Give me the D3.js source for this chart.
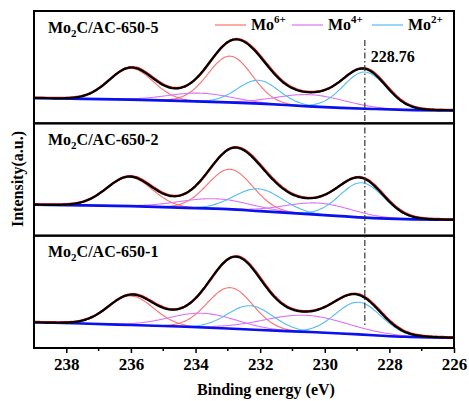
<!DOCTYPE html>
<html>
<head>
<meta charset="utf-8">
<script src="https://cdn.jsdelivr.net/npm/d3@7"></script>
<style>
body { margin: 0; background: #fff; }
text { font-family: "Liberation Serif", "Times New Roman", serif; font-weight: bold; fill: #000; }
</style>
</head>
<body>
<svg id="chart" width="469" height="401"></svg>
<script>
// x axis (binding energy, reversed)
var xTicks = [238, 236, 234, 232, 230, 228, 226]
var xMinor = [237, 235, 233, 231, 229, 227]

// panels, top to bottom
var sampleSuffix = ["650-5", "650-2", "650-1"]

// Shirley-like background read at a few energies
var bgEnergy = [239, 237.5, 236, 234.5, 233, 232, 230.5, 229.5, 228.5, 227.5, 226]
var bg650_5 = [25.3, 24.5, 23.7, 22.5, 21, 19.7, 17, 15.5, 14.4, 13.5, 13]
var bg650_2 = [31, 30.3, 29.5, 28, 26.5, 24.5, 21.5, 19.5, 17.5, 16.5, 16]
var bg650_1 = [25.7, 24.5, 23, 21.5, 19.5, 18, 16, 14.5, 12.8, 11.2, 10.3]

// fitted peaks per panel: [3d3/2, 3d5/2]
var mo6Center = [[236.0, 232.93], [236.05, 232.93], [236.0, 232.93]]
var mo6Height = [[31.3, 46.3], [29, 40], [29, 41]]
var mo6Fwhm = [[1.6, 1.6], [1.65, 1.65], [1.65, 1.65]]

var mo4Center = [[233.86, 230.45], [233.4, 230.2], [233.77, 230.6]]
var mo4Height = [[8.3, 11.7], [10, 11.7], [14.2, 16.6]]
var mo4Fwhm = [[2.35, 2.5], [2.6, 2.4], [2.45, 3.05]]

var mo2Center = [[232.06, 228.76], [232.06, 228.85], [232.31, 228.96]]
var mo2Height = [[23.3, 36.6], [22.2, 34.7], [23.8, 32.2]]
var mo2Fwhm = [[1.5, 1.55], [1.75, 1.6], [1.65, 1.65]]

var refLine = 228.76

var backgrounds = [bg650_5, bg650_2, bg650_1]
var species = [
  {name: "6+", color: "#ff6e6e", c: mo6Center, h: mo6Height, w: mo6Fwhm},
  {name: "4+", color: "#dd74f7", c: mo4Center, h: mo4Height, w: mo4Fwhm},
  {name: "2+", color: "#55bbf5", c: mo2Center, h: mo2Height, w: mo2Fwhm}
]

var svg = d3.select("#chart")

var left = 34, right = 454, top0 = 11, bottom0 = 348
var panelH = (bottom0 - top0) / 3

var x = d3.scaleLinear()
    .domain([239, 226])
    .range([left, right])

var grid = d3.range(226, 239.0001, 0.05)

function gauss(e, c, h, w) {
  return h * Math.exp(-4 * Math.LN2 * (e - c) * (e - c) / (w * w))
}

var clip = svg.append("clipPath").attr("id", "plotclip")
  .append("rect")
  .attr("x", left).attr("y", top0)
  .attr("width", right - left).attr("height", bottom0 - top0)

var plots = svg.append("g").attr("clip-path", "url(#plotclip)")

backgrounds.forEach(function(bg, i) {
  var pTop = top0 + i * panelH
  var y = d3.scaleLinear()
      .domain([0, panelH])
      .range([pTop + panelH, pTop])
  var bgAt = d3.scaleLinear().domain(bgEnergy).range(bg)

  var line = d3.line()
      .x(d => x(d[0]))
      .y(d => y(d[1]))
      .curve(d3.curveMonotoneX)

  var g = plots.append("g")

  // component peaks
  var envelope = grid.map(e => [e, bgAt(e)])
  species.forEach(function(s) {
    s.c[i].forEach(function(c, k) {
      var h = s.h[i][k], w = s.w[i][k]
      var pts = grid.map(e => [e, bgAt(e) + gauss(e, c, h, w)])
      grid.forEach(function(e, j) { envelope[j][1] += gauss(e, c, h, w) })
      g.append("path")
        .attr("d", line(pts))
        .attr("fill", "none")
        .attr("stroke", s.color)
        .attr("stroke-width", 1.1)
    })
  })

  // background
  g.append("path")
    .attr("d", line(bgEnergy.map((e, j) => [e, bg[j]])))
    .attr("fill", "none")
    .attr("stroke", "#0a10f0")
    .attr("stroke-width", 2.6)

  // raw data under the fitted envelope
  g.append("path")
    .attr("d", line(envelope))
    .attr("fill", "none")
    .attr("stroke", "#e82020")
    .attr("stroke-width", 2.3)
    .attr("transform", "translate(0.6,-0.4)")

  g.append("path")
    .attr("d", line(envelope))
    .attr("fill", "none")
    .attr("stroke", "#000")
    .attr("stroke-width", 2.2)

  // sample label
  var lab = svg.append("text")
    .attr("x", 48)
    .attr("y", pTop + 21.5)
    .attr("font-size", 16)
  lab.append("tspan").text("Mo")
  lab.append("tspan").attr("font-size", 11).attr("dy", 4).text("2")
  lab.append("tspan").attr("dy", -4).text("C/AC-" + sampleSuffix[i])

  // frame
  svg.append("rect")
    .attr("x", left).attr("y", pTop)
    .attr("width", right - left).attr("height", panelH)
    .attr("fill", "none")
    .attr("stroke", "#000")
    .attr("stroke-width", 2)
})

// dash-dot reference line
svg.append("line")
  .attr("x1", x(refLine)).attr("x2", x(refLine))
  .attr("y1", 40).attr("y2", 325)
  .attr("stroke", "#333")
  .attr("stroke-width", 1.2)
  .attr("stroke-dasharray", "6,2.5,1.5,2.5")

svg.append("text")
  .attr("x", x(refLine) + 6)
  .attr("y", 61.5)
  .attr("font-size", 16)
  .text(refLine.toFixed(2))

// legend
var legendX = [215, 292, 372]
species.forEach(function(s, i) {
  svg.append("line")
    .attr("x1", legendX[i]).attr("x2", legendX[i] + 31)
    .attr("y1", 25).attr("y2", 25)
    .attr("stroke", s.color)
    .attr("stroke-width", 1.2)
  var t = svg.append("text")
    .attr("x", legendX[i] + 36)
    .attr("y", 30)
    .attr("font-size", 16)
  t.append("tspan").text("Mo")
  t.append("tspan").attr("font-size", 11).attr("dy", -7).text(s.name)
})

// bottom axis
var axis = svg.append("g")
  .attr("transform", "translate(0," + bottom0 + ")")

axis.call(d3.axisBottom(x).tickValues(xTicks).tickSize(5).tickPadding(5).tickFormat(d3.format("d")))
axis.select(".domain").remove()
axis.selectAll(".tick line").attr("stroke-width", 1.5)
axis.selectAll(".tick text")
  .attr("font-size", 17)
  .attr("font-family", "Liberation Serif, Times New Roman, serif")
  .attr("font-weight", "bold")

axis.selectAll(".minor")
  .data(xMinor)
  .enter().append("line")
  .attr("x1", d => x(d)).attr("x2", d => x(d))
  .attr("y1", 0).attr("y2", 3)
  .attr("stroke", "#000")
  .attr("stroke-width", 1.5)

svg.append("text")
  .attr("x", 266)
  .attr("y", 395)
  .attr("text-anchor", "middle")
  .attr("font-size", 16)
  .text("Binding energy (eV)")

svg.append("text")
  .attr("transform", "translate(23,179) rotate(-90)")
  .attr("text-anchor", "middle")
  .attr("font-size", 16)
  .text("Intensity(a.u.)")
</script>
</body>
</html>
